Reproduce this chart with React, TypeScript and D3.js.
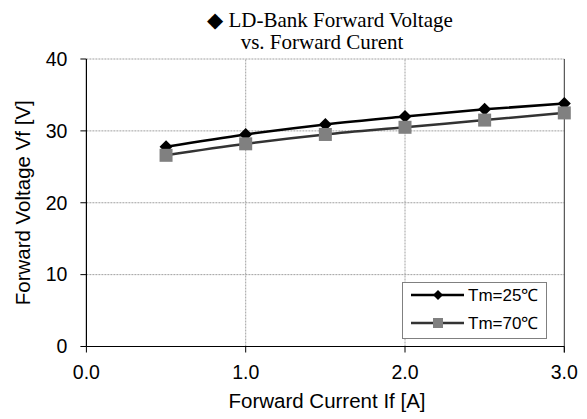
import React from "react";
import * as d3 from "d3";

const currents = [0.5, 1.0, 1.5, 2.0, 2.5, 3.0];
const vf25 = [27.8, 29.5, 30.9, 32.0, 33.0, 33.8];
const vf70 = [26.6, 28.2, 29.5, 30.5, 31.5, 32.5];
const xTicks = [0, 1, 2, 3];
const yTicks = [0, 10, 20, 30, 40];
const seriesNames = ["Tm=25\u2103", "Tm=70\u2103"];

const W = 587;
const H = 419;

export default function App() {
  const x = d3.scaleLinear().domain([0, 3]).range([86.4, 564.3]);
  const y = d3.scaleLinear().domain([0, 40]).range([346.5, 59]);
  const line = d3
    .line<number>()
    .x((_, i) => x(currents[i]))
    .y((d) => y(d))
    .curve(d3.curveMonotoneX);
  const sans = "Arial, 'Liberation Sans', sans-serif";
  const serif = "'Times New Roman', 'Liberation Serif', serif";
  const diamond = (cx: number, cy: number, r: number) =>
    `M${cx},${cy - r}L${cx + r},${cy}L${cx},${cy + r}L${cx - r},${cy}Z`;

  return (
    <svg
      width={W}
      height={H}
      style={{ position: "absolute", left: 0, top: 0, background: "#fff" }}
    >
      {/* title */}
      <text x={330} y={26.5} textAnchor="middle" fontFamily={serif} fontSize={21} fill="#000">
        ◆ LD-Bank Forward Voltage
      </text>
      <text x={322} y={48.5} textAnchor="middle" fontFamily={serif} fontSize={21} fill="#000">
        vs. Forward Curent
      </text>

      {/* gridlines */}
      {yTicks.slice(1).map((t) => (
        <line
          key={"gy" + t}
          x1={x(0)}
          x2={x(3)}
          y1={y(t)}
          y2={y(t)}
          stroke="#a0a0a0"
          strokeWidth={1}
          strokeDasharray="2,1"
        />
      ))}
      {xTicks.slice(1, 3).map((t) => (
        <line
          key={"gx" + t}
          x1={x(t)}
          x2={x(t)}
          y1={y(0)}
          y2={y(40)}
          stroke="#a0a0a0"
          strokeWidth={1}
          strokeDasharray="2,1"
        />
      ))}
      {/* right border */}
      <line x1={x(3)} x2={x(3)} y1={y(40)} y2={y(0) + 6} stroke="#333" strokeWidth={1} />

      {/* axes */}
      <line x1={x(0)} x2={x(0)} y1={y(40)} y2={y(0)} stroke="#000" strokeWidth={1.2} />
      <line x1={x(0)} x2={x(3)} y1={y(0)} y2={y(0)} stroke="#000" strokeWidth={1.2} />
      {yTicks.map((t) => (
        <g key={"ty" + t}>
          <line x1={x(0) - 6} x2={x(0)} y1={y(t)} y2={y(t)} stroke="#000" />
          <text
            x={x(0) - 19}
            y={y(t)}
            dy="0.35em"
            textAnchor="end"
            fontFamily={sans}
            fontSize={19.5}
            fill="#000"
          >
            {t}
          </text>
        </g>
      ))}
      {xTicks.map((t) => (
        <g key={"tx" + t}>
          <line x1={x(t)} x2={x(t)} y1={y(0)} y2={y(0) + 6} stroke="#000" />
          <text
            x={x(t)}
            y={379}
            textAnchor="middle"
            fontFamily={sans}
            fontSize={19.5}
            fill="#000"
          >
            {t.toFixed(1)}
          </text>
        </g>
      ))}
      <text x={327} y={408} textAnchor="middle" fontFamily={sans} fontSize={20.5} fill="#000">
        Forward Current If [A]
      </text>
      <text
        transform={`translate(29.5,${(y(0) + y(40)) / 2}) rotate(-90)`}
        textAnchor="middle"
        fontFamily={sans}
        fontSize={20.5}
        fill="#000"
      >
        Forward Voltage Vf [V]
      </text>

      {/* series */}
      <path d={line(vf25) || ""} fill="none" stroke="#000" strokeWidth={2.5} />
      <path d={line(vf70) || ""} fill="none" stroke="#333" strokeWidth={2.5} />
      {vf25.map((v, i) => (
        <path key={"d" + i} d={diamond(x(currents[i]), y(v), 6.5)} fill="#000" />
      ))}
      {vf70.map((v, i) => (
        <rect
          key={"s" + i}
          x={x(currents[i]) - 6.5}
          y={y(v) - 6.5}
          width={13}
          height={13}
          fill="#808080"
        />
      ))}

      {/* legend */}
      <rect x={402.5} y={282.5} width={144} height={56} fill="#fff" stroke="#808080" strokeWidth={1} />
      <line x1={411} x2={464} y1={295} y2={295} stroke="#000" strokeWidth={2.5} />
      <path d={diamond(438, 295, 5)} fill="#000" />
      <text x={468} y={295} dy="0.35em" fontFamily={sans} fontSize={17} fill="#000">
        {seriesNames[0]}
      </text>
      <line x1={411} x2={464} y1={323} y2={323} stroke="#333" strokeWidth={2.5} />
      <rect x={433} y={318} width={10} height={10} fill="#808080" />
      <text x={468} y={323} dy="0.35em" fontFamily={sans} fontSize={17} fill="#000">
        {seriesNames[1]}
      </text>
    </svg>
  );
}
